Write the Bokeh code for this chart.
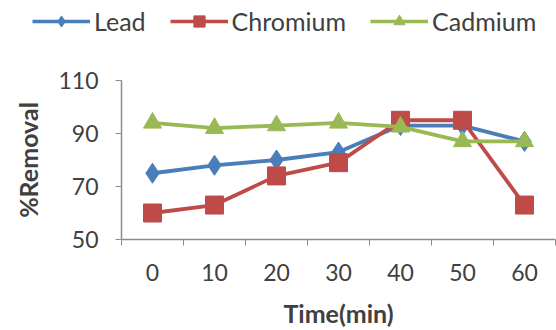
from bokeh.plotting import figure
from bokeh.models import Range1d, FixedTicker, Legend, LegendItem
from bokeh.layouts import column, row
from bokeh.embed import file_html
from bokeh.resources import INLINE

time_min = [0, 10, 20, 30, 40, 50, 60]
lead = [75, 78, 80, 83, 93, 93, 87]
chromium = [60, 63, 74, 79, 95, 95, 63]
cadmium = [94, 92, 93, 94, 92.5, 87, 87]
y_ticks = [50, 70, 90, 110]
series_names = ["Lead", "Chromium", "Cadmium"]

FONT = "Lato"
TXT = "#404040"
AX = "#8c8c8c"
BLUE = "#4a7ebb"
RED = "#be4b48"
GREEN = "#98b954"

LEG_H = 44
LEFT = 121

p = figure(width=556, height=330 - LEG_H, output_backend="svg", toolbar_location=None,
           x_range=Range1d(-5, 65), y_range=Range1d(50, 110),
           min_border_left=LEFT, min_border_right=1, min_border_top=80 - LEG_H,
           min_border_bottom=90)
p.outline_line_color = None
p.xgrid.visible = False
p.ygrid.visible = False

minor = [t - 5 for t in time_min] + [time_min[-1] + 5]
p.xaxis.ticker = FixedTicker(ticks=time_min, minor_ticks=minor)
p.xaxis.major_tick_line_color = None
p.xaxis.minor_tick_out = 6
p.xaxis.minor_tick_in = 0
p.xaxis.minor_tick_line_color = AX
p.xaxis.axis_line_color = AX
p.xaxis.axis_line_width = 1.5
p.xaxis.major_label_standoff = 18
p.xaxis.axis_label = "Time(min)"

p.yaxis.ticker = FixedTicker(ticks=y_ticks)
p.yaxis.minor_tick_line_color = None
p.yaxis.major_tick_out = 6
p.yaxis.major_tick_in = 0
p.yaxis.major_tick_line_color = AX
p.yaxis.axis_line_color = AX
p.yaxis.axis_line_width = 1.5
p.yaxis.major_label_standoff = 17
p.yaxis.axis_label = "%Removal"

for ax in (p.xaxis[0], p.yaxis[0]):
    ax.major_label_text_font = FONT
    ax.major_label_text_font_size = "23px"
    ax.major_label_text_color = TXT
    ax.axis_label_text_font = FONT
    ax.axis_label_text_font_size = "25px"
    ax.axis_label_text_font_style = "bold"
    ax.axis_label_text_color = TXT
p.xaxis.axis_label_standoff = 14
p.yaxis.axis_label_standoff = 12

styles = [(lead, BLUE, "diamond", 20), (chromium, RED, "square", 18), (cadmium, GREEN, "triangle", 18)]

# legend-only strip above the chart
lf = figure(width=556, height=LEG_H, output_backend="svg", toolbar_location=None,
            x_range=Range1d(1000, 1001), y_range=Range1d(1000, 1001),
            x_axis_type=None, y_axis_type=None,
            min_border_left=0, min_border_right=0, min_border_top=0, min_border_bottom=0)
lf.outline_line_color = None
lf.xgrid.visible = False
lf.ygrid.visible = False

items = []
for name, (vals, col, mk, sz) in zip(series_names, styles):
    p.line(time_min, vals, line_color=col, line_width=3.8)
    p.scatter(time_min, vals, marker=mk, size=sz, fill_color=col, line_color=col)
    ll = lf.line(time_min, vals, line_color=col, line_width=3.5)
    lm = lf.scatter(time_min, vals, marker=mk, size=sz, fill_color=col, line_color=col)
    items.append(LegendItem(label=name, renderers=[ll, lm]))

legend = Legend(items=items, orientation="horizontal", location=(32, 8),
                glyph_width=58, glyph_height=28, label_standoff=4, spacing=24,
                padding=0, margin=0, border_line_color=None, background_fill_alpha=0,
                label_text_font=FONT, label_text_font_size="25px", label_text_color=TXT)
lf.add_layout(legend, "center")

layout = column(row(lf, spacing=0), p, spacing=0)
open("out.html", "w").write(file_html(layout, INLINE))
